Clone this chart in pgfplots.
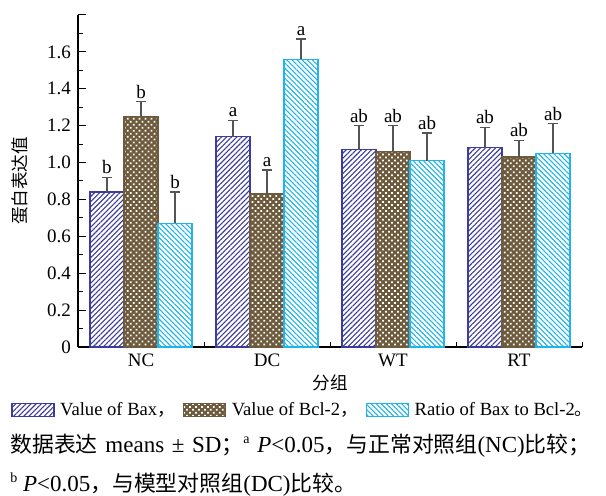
\documentclass[border=0pt]{standalone}
\usepackage{pgfplots}
\pgfplotsset{compat=1.18}
\usepackage{fontspec}
\setmainfont{Liberation Serif}
\newfontfamily\cjk{Noto Sans CJK SC}[Scale=0.88]
\newfontfamily\cjkcap{Noto Sans CJK SC}[Scale=0.95]
\usetikzlibrary{patterns,patterns.meta}
\definecolor{baxc}{HTML}{3C3C9E}
\definecolor{bclc}{HTML}{6E5A3C}
\definecolor{ratc}{HTML}{20B4EC}
\definecolor{errc}{HTML}{555555}

\pgfplotstableread{
x y e
-0.27 0.84 0.08
0.73 1.14 0.09
1.73 1.07 0.13
2.73 1.08 0.11
}\bax
\pgfplotstableread{
x y e
0 1.25 0.08
1 0.83 0.13
2 1.06 0.14
3 1.03 0.09
}\bcl
\pgfplotstableread{
x y e
0.27 0.67 0.17
1.27 1.56 0.11
2.27 1.01 0.15
3.27 1.05 0.16
}\rat
\pgfplotstableread{
x y lab
-0.27 0.92 b
0 1.33 b
0.27 0.84 b
0.73 1.23 a
1 0.96 a
1.27 1.67 a
1.73 1.20 ab
2 1.20 ab
2.27 1.16 ab
2.73 1.19 ab
3 1.12 ab
3.27 1.21 ab
}\labs

\begin{document}
\begin{tikzpicture}
\begin{axis}[
  scale only axis,
  width=252pt, height=166pt,
  xmin=-0.5, xmax=3.5, ymin=0, ymax=1.8,
  axis lines=left,
  axis line style={-, black, line width=0.6pt},
  xtick={0,1,2,3},
  xticklabels={NC,DC,WT,RT},
  minor xtick={0.5,1.5,2.5,3.5},
  ytick={0,0.2,...,1.6,1.8},
  yticklabels={0,0.2,0.4,0.6,0.8,1.0,1.2,1.4,1.6,},
  minor ytick={0.1,0.3,...,1.7},
  tick style={black, line width=0.5pt},
  major tick length=4pt, minor tick length=2.5pt,
  tick align=inside,
  /pgf/number format/assume math mode=true,
  tick label style={font=\fontsize{9.5}{11}\selectfont},
  xlabel={\cjk 分组},
  ylabel={\cjk 蛋白表达值},
  label style={font=\fontsize{10}{12}\selectfont},
  xlabel style={at={(axis description cs:0.5,-0.108)}, anchor=center},
  ylabel style={at={(axis description cs:-0.115,0.5)}, anchor=center},
  clip=false,
  legend columns=3,
  legend style={at={(axis description cs:-0.133,-0.19)}, anchor=west, draw=none, fill=none,
    font=\fontsize{9.3}{11}\selectfont, inner sep=0pt,
    /tikz/every odd column/.append style={column sep=0.8pt},
    /tikz/every even column/.append style={column sep=2pt}},
  legend image code/.code={\draw[#1, line width=0.6pt] (0pt,-3.4pt) rectangle (21pt,3.4pt);},
  error bars/y dir=plus,
  error bars/y explicit,
  error bars/error bar style={errc, line width=0.6pt},
  error bars/error mark options={errc, rotate=90, mark size=2.5pt, line width=0.6pt},
]
\addplot[ybar, bar width=0.27, bar shift=0, draw=baxc, line width=0.6pt,
  pattern={Lines[angle=45, distance=1.8pt, line width=0.55pt]}, pattern color=baxc]
  table[x=x, y=y, y error=e] {\bax};
\addlegendentry{Value of Bax{\cjkcap ，}}
\addplot[ybar, bar width=0.27, bar shift=0, draw=bclc, line width=0.6pt,
  fill=bclc, postaction={pattern={Dots[distance=2.1pt, radius=0.62pt, angle=45]}, pattern color=white}]
  table[x=x, y=y, y error=e] {\bcl};
\addlegendentry{Value of Bcl-2{\cjkcap ，}}
\addplot[ybar, bar width=0.27, bar shift=0, draw=ratc, line width=0.6pt,
  pattern={Lines[angle=-45, distance=1.8pt, line width=0.55pt]}, pattern color=ratc]
  table[x=x, y=y, y error=e] {\rat};
\addlegendentry{Ratio of Bax to Bcl-2{\cjkcap 。}}
\addplot[forget plot, draw=none, mark=none, nodes near coords, point meta=explicit symbolic,
  nodes near coords style={font=\fontsize{9.5}{11}\selectfont, anchor=south, inner sep=1.5pt}]
  table[x=x, y=y, meta=lab] {\labs};
\node[anchor=base west, font=\fontsize{11.5}{13}\selectfont, inner sep=0pt] at (axis description cs:-0.135,-0.318)
  {\makebox[290pt][s]{{\cjkcap 数据表达} means ± SD{\cjkcap ；}{\fontsize{7}{8}\selectfont\raisebox{4.5pt}{a}} \textit{P}<0.05{\cjkcap ，与正常对照组}(NC){\cjkcap 比较；}}};
\node[anchor=base west, font=\fontsize{11.5}{13}\selectfont, inner sep=0pt] at (axis description cs:-0.135,-0.434)
  {{\fontsize{7}{8}\selectfont\raisebox{4.5pt}{b}} \textit{P}<0.05{\cjkcap ，与模型对照组}(DC){\cjkcap 比较。}};
\path (axis description cs:-0.1548,-0.4488) rectangle (axis description cs:1.0476,1.0452);
\end{axis}
\end{tikzpicture}
\end{document}
